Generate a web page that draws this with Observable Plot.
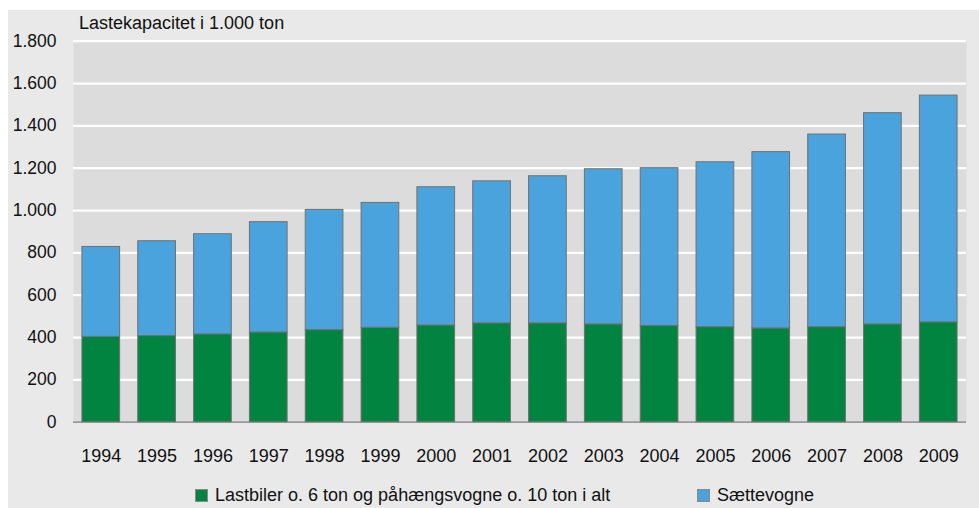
<!DOCTYPE html>
<html>
<head>
<meta charset="utf-8">
<script src="https://cdn.jsdelivr.net/npm/d3@7"></script>
<script src="https://cdn.jsdelivr.net/npm/@observablehq/plot@0.6"></script>
<style>
  html, body { margin: 0; padding: 0; background: #ffffff; }
  body { font-family: "Liberation Sans", Arial, sans-serif; color: #111; }
  #wrap { position: relative; width: 979px; height: 508px; overflow: hidden; }
  #panel { position: absolute; left: 8px; top: 10px; right: 0; bottom: 0; background: #e9e9e9; }
  #title { position: absolute; left: 79px; top: 12px; font-size: 18px; line-height: 22px; white-space: nowrap; }
  #chart { position: absolute; left: 0; top: 30px; }
  #legend { position: absolute; top: 484px; left: 0; width: 979px; height: 24px; font-size: 18px; line-height: 22px; }
  .item { position: absolute; top: 0; white-space: nowrap; }
  .sw { display: inline-block; width: 11px; height: 11px; border: 1px solid #8a8a8a; vertical-align: -1px; margin-right: 7px; }
</style>
</head>
<body>
<div id="wrap">
  <div id="panel"></div>
  <div id="title">Lastekapacitet i 1.000 ton</div>
  <div id="chart"></div>
  <div id="legend"></div>
</div>
<script>
const years = ["1994","1995","1996","1997","1998","1999","2000","2001","2002","2003","2004","2005","2006","2007","2008","2009"];
const seriesNames = ["Lastbiler o. 6 ton og påhængsvogne o. 10 ton i alt", "Sættevogne"];
const lastbiler = [403,407,415,424,435,446,457,467,467,462,455,449,443,449,462,472];
const saettevogne = [425,448,473,521,568,590,653,671,695,733,745,779,833,910,998,1071];
const yTicks = [0,200,400,600,800,1000,1200,1400,1600,1800];
const colors = ["#00843f", "#4aa3dc"];

const data = [];
years.forEach((y, i) => {
  data.push({year: y, series: seriesNames[0], value: lastbiler[i]});
  data.push({year: y, series: seriesNames[1], value: saettevogne[i]});
});

const fmt = d => d3.format(",")(d).replace(/,/g, ".");

const chart = Plot.plot({
  width: 979,
  height: 440,
  marginTop: 10.7,
  marginBottom: 48.3,
  marginLeft: 73,
  marginRight: 13,
  style: { background: "transparent", fontFamily: "Liberation Sans, Arial, sans-serif", fontSize: "18px", color: "#111" },
  x: { domain: years, paddingInner: 0.325, paddingOuter: 0.16, align: 0.5, round: false, label: null },
  y: { domain: [0, 1800], label: null },
  color: { domain: seriesNames, range: colors },
  marks: [
    Plot.frame({ fill: "#dcdcdc", stroke: null }),
    Plot.ruleY(yTicks.filter(d => d > 0), { stroke: "#ffffff", strokeWidth: 2.2 }),
    Plot.ruleY([0], { stroke: "#9a9a9a", strokeWidth: 1.8 }),
    Plot.barY(data, Plot.stackY({ order: null }, { x: "year", y: "value", z: "series", fill: "series", stroke: "#707070", strokeWidth: 1 })),
    Plot.axisY({ ticks: yTicks, tickFormat: fmt, tickSize: 0, tickPadding: 17, fontSize: 17.5, label: null }),
    Plot.axisX({ tickSize: 0, tickPadding: 27, fontSize: 18, label: null })
  ]
});
document.getElementById("chart").appendChild(chart);

const legend = document.getElementById("legend");
const pos = [195, 697];
seriesNames.forEach((name, i) => {
  const item = document.createElement("div");
  item.className = "item";
  item.style.left = pos[i] + "px";
  const sw = document.createElement("span");
  sw.className = "sw";
  sw.style.background = colors[i];
  item.appendChild(sw);
  item.appendChild(document.createTextNode(name));
  legend.appendChild(item);
});
</script>
</body>
</html>
